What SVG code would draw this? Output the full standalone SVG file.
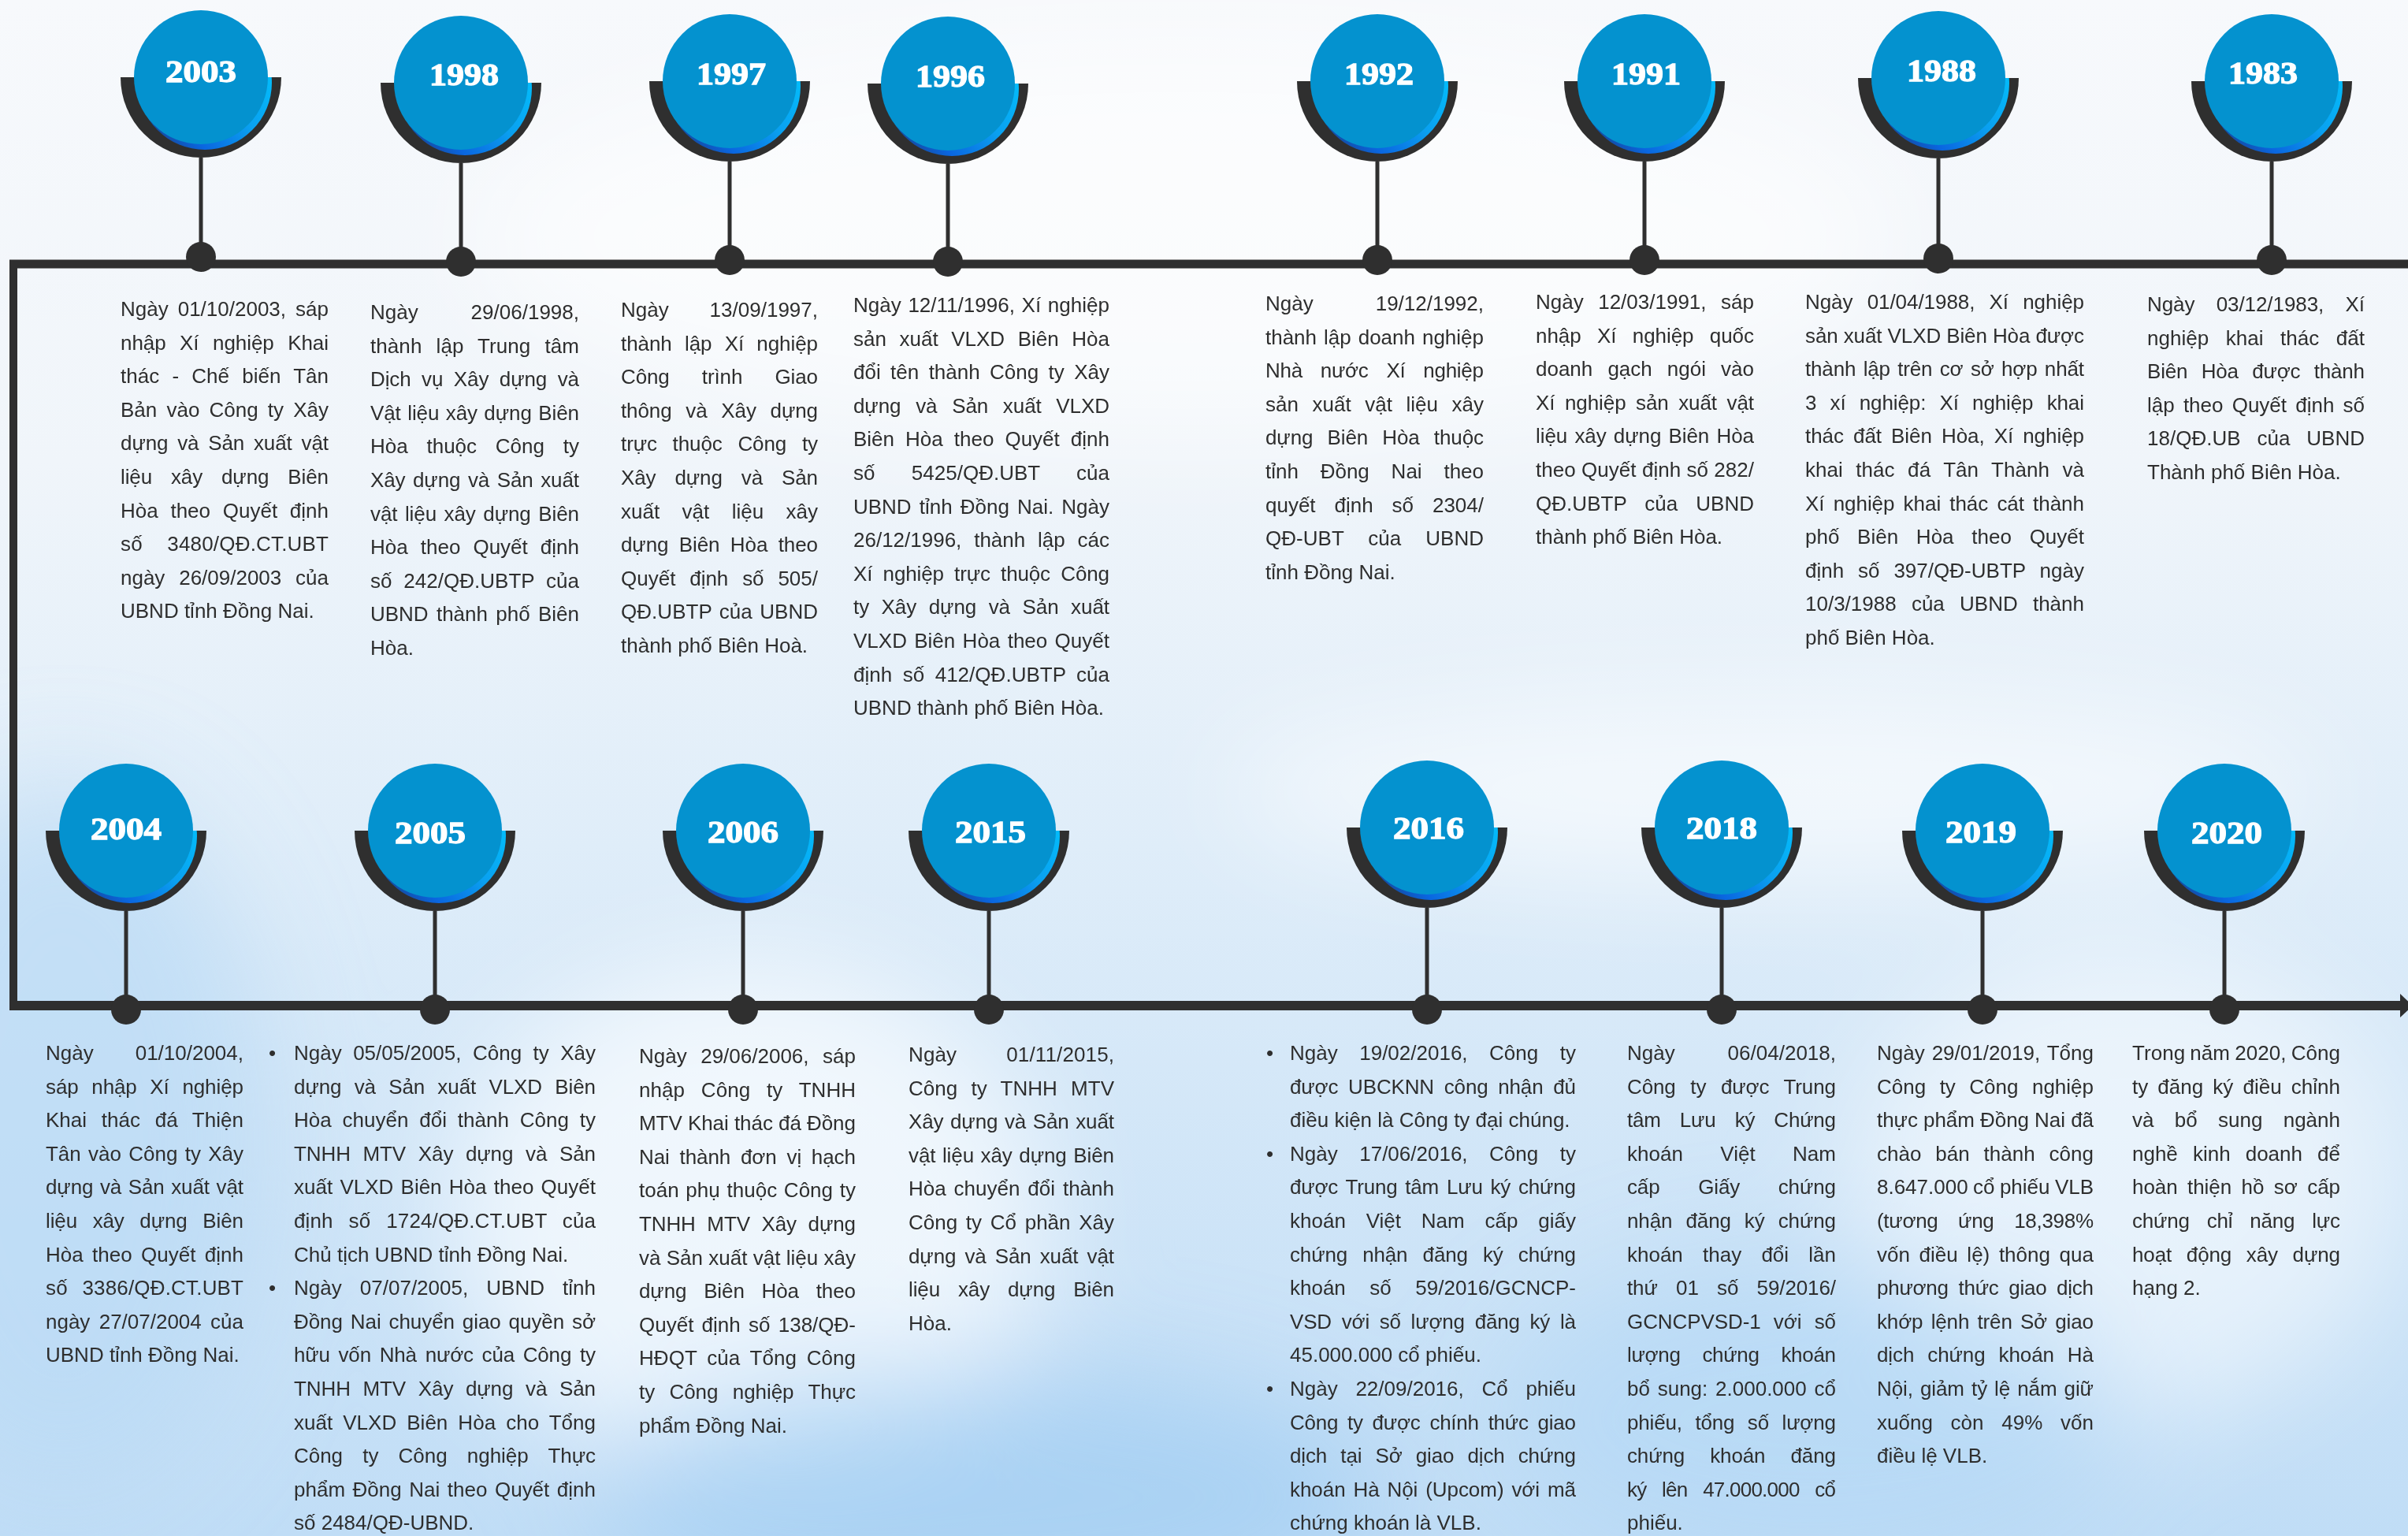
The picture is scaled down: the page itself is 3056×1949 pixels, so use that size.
<svg xmlns="http://www.w3.org/2000/svg" xmlns:xlink="http://www.w3.org/1999/xlink" width="3056" height="1949" viewBox="0 0 3056 1949">
<style>
.t{font-family:"Liberation Sans",Arial,sans-serif;font-size:26px;fill:#2e2e2e}
.yr{font-family:"Liberation Serif","Times New Roman",serif;font-weight:bold;font-size:41px;fill:#ffffff;stroke:#ffffff;stroke-width:1.3px;text-anchor:middle}
.ln{stroke:#2f2f2f;fill:none}
.stem{stroke:#2f2f2f;stroke-width:5}
.dot{fill:#2f2f2f}
.cup{fill:#2f2f2f}
.disc{fill:#0492cf}
</style>
<defs>
<linearGradient id="bg" x1="0" y1="0" x2="0" y2="1">
<stop offset="0" stop-color="#f7f9fc"/>
<stop offset="0.3" stop-color="#f0f5fa"/>
<stop offset="0.55" stop-color="#dfedf9"/>
<stop offset="1" stop-color="#c0ddf6"/>
</linearGradient>
<linearGradient id="cres" x1="1" y1="0.2" x2="0.1" y2="1">
<stop offset="0" stop-color="#00c8ff"/>
<stop offset="0.45" stop-color="#0aa0f0"/>
<stop offset="0.75" stop-color="#0a66e0"/>
<stop offset="1" stop-color="#1a3d80"/>
</linearGradient>
<filter id="blur" x="-50%" y="-50%" width="200%" height="200%"><feGaussianBlur stdDeviation="70"/></filter>
<clipPath id="lower"><rect x="-120" y="0" width="240" height="130"/></clipPath>
<g id="badge">
<path class="cup" d="M-102,0 A102,102 0 0 0 102,0 Z"/>
<g clip-path="url(#lower)"><circle cx="5" cy="7" r="85" fill="url(#cres)"/></g>
<circle class="disc" r="85"/>
</g>
</defs>
<g id="background">
<rect width="3056" height="1949" fill="url(#bg)"/>
<g filter="url(#blur)">
<ellipse cx="80" cy="1450" rx="260" ry="450" fill="#b9daf5" opacity="0.7"/>
<ellipse cx="950" cy="1550" rx="380" ry="330" fill="#ffffff" opacity="0.65"/>
<ellipse cx="1250" cy="1900" rx="500" ry="160" fill="#9fcdf2" opacity="0.7"/>
<ellipse cx="2250" cy="1000" rx="700" ry="110" fill="#ffffff" opacity="0.6"/>
<ellipse cx="2700" cy="1500" rx="350" ry="300" fill="#ffffff" opacity="0.5"/>
<ellipse cx="2300" cy="1800" rx="400" ry="200" fill="#b2d7f5" opacity="0.6"/>
<ellipse cx="1500" cy="300" rx="900" ry="250" fill="#ffffff" opacity="0.6"/>
</g>
</g>
<g id="connectors">
<line class="ln" x1="12" y1="335" x2="3056" y2="335" stroke-width="11"/>
<line class="ln" x1="17" y1="330" x2="17" y2="1282" stroke-width="10"/>
<line class="ln" x1="12" y1="1276" x2="3050" y2="1276" stroke-width="12"/>
<polygon points="3046,1261 3062,1276 3046,1291" fill="#2f2f2f"/>
</g>

<g id="n2003">
<line class="stem" x1="255" y1="200" x2="255" y2="326"/>
<circle class="dot" cx="255" cy="326" r="19"/>
<use xlink:href="#badge" href="#badge" transform="translate(255,98)"/>
<text class="yr" x="255" y="104" textLength="90" lengthAdjust="spacingAndGlyphs">2003</text>
<text class="t" x="153" y="401" textLength="264" lengthAdjust="spacing" style="word-spacing:4.8px">Ngày 01/10/2003, sáp</text>
<text class="t" x="153" y="443.6" textLength="264" lengthAdjust="spacing" style="word-spacing:10.4px">nhập Xí nghiệp Khai</text>
<text class="t" x="153" y="486.2" textLength="264" lengthAdjust="spacing" style="word-spacing:8.9px">thác - Chế biến Tân</text>
<text class="t" x="153" y="528.8" textLength="264" lengthAdjust="spacing" style="word-spacing:4.9px">Bản vào Công ty Xây</text>
<text class="t" x="153" y="571.4" textLength="264" lengthAdjust="spacing" style="word-spacing:4.6px">dựng và Sản xuất vật</text>
<text class="t" x="153" y="614" textLength="264" lengthAdjust="spacing" style="word-spacing:16.8px">liệu xây dựng Biên</text>
<text class="t" x="153" y="656.6" textLength="264" lengthAdjust="spacing" style="word-spacing:8.5px">Hòa theo Quyết định</text>
<text class="t" x="153" y="699.2" textLength="264" lengthAdjust="spacing" style="word-spacing:24px">số 3480/QĐ.CT.UBT</text>
<text class="t" x="153" y="741.8" textLength="264" lengthAdjust="spacing" style="word-spacing:10.6px">ngày 26/09/2003 của</text>
<text class="t" x="153" y="784.4">UBND tỉnh Đồng Nai.</text>
</g>

<g id="n1998">
<line class="stem" x1="585" y1="207" x2="585" y2="332"/>
<circle class="dot" cx="585" cy="332" r="19"/>
<use xlink:href="#badge" href="#badge" transform="translate(585,105)"/>
<text class="yr" x="589" y="108" textLength="88" lengthAdjust="spacingAndGlyphs">1998</text>
<text class="t" x="470" y="405" textLength="265" lengthAdjust="spacing" style="word-spacing:59.7px">Ngày 29/06/1998,</text>
<text class="t" x="470" y="447.6" textLength="265" lengthAdjust="spacing" style="word-spacing:10.8px">thành lập Trung tâm</text>
<text class="t" x="470" y="490.2" textLength="265" lengthAdjust="spacing" style="word-spacing:6.4px">Dịch vụ Xây dựng và</text>
<text class="t" x="470" y="532.8" textLength="265" lengthAdjust="spacing" style="word-spacing:1.3px">Vật liệu xây dựng Biên</text>
<text class="t" x="470" y="575.4" textLength="265" lengthAdjust="spacing" style="word-spacing:16.6px">Hòa thuộc Công ty</text>
<text class="t" x="470" y="618" textLength="265" lengthAdjust="spacing" style="word-spacing:2.4px">Xây dựng và Sản xuất</text>
<text class="t" x="470" y="660.6" textLength="265" lengthAdjust="spacing" style="word-spacing:2.4px">vật liệu xây dựng Biên</text>
<text class="t" x="470" y="703.2" textLength="265" lengthAdjust="spacing" style="word-spacing:8.8px">Hòa theo Quyết định</text>
<text class="t" x="470" y="745.8" textLength="265" lengthAdjust="spacing" style="word-spacing:7.5px">số 242/QĐ.UBTP của</text>
<text class="t" x="470" y="788.4" textLength="265" lengthAdjust="spacing" style="word-spacing:3.1px">UBND thành phố Biên</text>
<text class="t" x="470" y="831">Hòa.</text>
</g>

<g id="n1997">
<line class="stem" x1="926" y1="205" x2="926" y2="330"/>
<circle class="dot" cx="926" cy="330" r="19"/>
<use xlink:href="#badge" href="#badge" transform="translate(926,103)"/>
<text class="yr" x="928" y="107" textLength="88" lengthAdjust="spacingAndGlyphs">1997</text>
<text class="t" x="788" y="402" textLength="250" lengthAdjust="spacing" style="word-spacing:44.7px">Ngày 13/09/1997,</text>
<text class="t" x="788" y="444.6" textLength="250" lengthAdjust="spacing" style="word-spacing:9.1px">thành lập Xí nghiệp</text>
<text class="t" x="788" y="487.2" textLength="250" lengthAdjust="spacing" style="word-spacing:34px">Công trình Giao</text>
<text class="t" x="788" y="529.8" textLength="250" lengthAdjust="spacing" style="word-spacing:10.7px">thông và Xây dựng</text>
<text class="t" x="788" y="572.4" textLength="250" lengthAdjust="spacing" style="word-spacing:12.6px">trực thuộc Công ty</text>
<text class="t" x="788" y="615" textLength="250" lengthAdjust="spacing" style="word-spacing:16.9px">Xây dựng và Sản</text>
<text class="t" x="788" y="657.6" textLength="250" lengthAdjust="spacing" style="word-spacing:21.2px">xuất vật liệu xây</text>
<text class="t" x="788" y="700.2" textLength="250" lengthAdjust="spacing" style="word-spacing:6.3px">dựng Biên Hòa theo</text>
<text class="t" x="788" y="742.8" textLength="250" lengthAdjust="spacing" style="word-spacing:10.6px">Quyết định số 505/</text>
<text class="t" x="788" y="785.4" textLength="250" lengthAdjust="spacing" style="word-spacing:2.2px">QĐ.UBTP của UBND</text>
<text class="t" x="788" y="828">thành phố Biên Hoà.</text>
</g>

<g id="n1996">
<line class="stem" x1="1203" y1="208" x2="1203" y2="332"/>
<circle class="dot" cx="1203" cy="332" r="19"/>
<use xlink:href="#badge" href="#badge" transform="translate(1203,106)"/>
<text class="yr" x="1206" y="110" textLength="88" lengthAdjust="spacingAndGlyphs">1996</text>
<text class="t" x="1083" y="396" textLength="325" lengthAdjust="spacing" style="word-spacing:1.4px">Ngày 12/11/1996, Xí nghiệp</text>
<text class="t" x="1083" y="438.6" textLength="325" lengthAdjust="spacing" style="word-spacing:9.4px">sản xuất VLXD Biên Hòa</text>
<text class="t" x="1083" y="481.2" textLength="325" lengthAdjust="spacing" style="word-spacing:5.2px">đổi tên thành Công ty Xây</text>
<text class="t" x="1083" y="523.8" textLength="325" lengthAdjust="spacing" style="word-spacing:11.6px">dựng và Sản xuất VLXD</text>
<text class="t" x="1083" y="566.4" textLength="325" lengthAdjust="spacing" style="word-spacing:6.8px">Biên Hòa theo Quyết định</text>
<text class="t" x="1083" y="609" textLength="325" lengthAdjust="spacing" style="word-spacing:39px">số 5425/QĐ.UBT của</text>
<text class="t" x="1083" y="651.6" textLength="325" lengthAdjust="spacing" style="word-spacing:2.9px">UBND tỉnh Đồng Nai. Ngày</text>
<text class="t" x="1083" y="694.2" textLength="325" lengthAdjust="spacing" style="word-spacing:8.6px">26/12/1996, thành lập các</text>
<text class="t" x="1083" y="736.8" textLength="325" lengthAdjust="spacing" style="word-spacing:6.2px">Xí nghiệp trực thuộc Công</text>
<text class="t" x="1083" y="779.4" textLength="325" lengthAdjust="spacing" style="word-spacing:8.4px">ty Xây dựng và Sản xuất</text>
<text class="t" x="1083" y="822" textLength="325" lengthAdjust="spacing" style="word-spacing:2.1px">VLXD Biên Hòa theo Quyết</text>
<text class="t" x="1083" y="864.6" textLength="325" lengthAdjust="spacing" style="word-spacing:6.2px">định số 412/QĐ.UBTP của</text>
<text class="t" x="1083" y="907.2">UBND thành phố Biên Hòa.</text>
</g>

<g id="n1992">
<line class="stem" x1="1748" y1="205" x2="1748" y2="330"/>
<circle class="dot" cx="1748" cy="330" r="19"/>
<use xlink:href="#badge" href="#badge" transform="translate(1748,103)"/>
<text class="yr" x="1750" y="107" textLength="88" lengthAdjust="spacingAndGlyphs">1992</text>
<text class="t" x="1606" y="394" textLength="277" lengthAdjust="spacing" style="word-spacing:71.8px">Ngày 19/12/1992,</text>
<text class="t" x="1606" y="436.6" textLength="277" lengthAdjust="spacing" style="word-spacing:1.8px">thành lập doanh nghiệp</text>
<text class="t" x="1606" y="479.2" textLength="277" lengthAdjust="spacing" style="word-spacing:15.9px">Nhà nước Xí nghiệp</text>
<text class="t" x="1606" y="521.8" textLength="277" lengthAdjust="spacing" style="word-spacing:10.4px">sản xuất vật liệu xây</text>
<text class="t" x="1606" y="564.4" textLength="277" lengthAdjust="spacing" style="word-spacing:11px">dựng Biên Hòa thuộc</text>
<text class="t" x="1606" y="607" textLength="277" lengthAdjust="spacing" style="word-spacing:20.6px">tỉnh Đồng Nai theo</text>
<text class="t" x="1606" y="649.6" textLength="277" lengthAdjust="spacing" style="word-spacing:16.7px">quyết định số 2304/</text>
<text class="t" x="1606" y="692.2" textLength="277" lengthAdjust="spacing" style="word-spacing:23.7px">QĐ-UBT của UBND</text>
<text class="t" x="1606" y="734.8">tỉnh Đồng Nai.</text>
</g>

<g id="n1991">
<line class="stem" x1="2087" y1="205" x2="2087" y2="330"/>
<circle class="dot" cx="2087" cy="330" r="19"/>
<use xlink:href="#badge" href="#badge" transform="translate(2087,103)"/>
<text class="yr" x="2089" y="107" textLength="88" lengthAdjust="spacingAndGlyphs">1991</text>
<text class="t" x="1949" y="392" textLength="277" lengthAdjust="spacing" style="word-spacing:11.3px">Ngày 12/03/1991, sáp</text>
<text class="t" x="1949" y="434.6" textLength="277" lengthAdjust="spacing" style="word-spacing:13.3px">nhập Xí nghiệp quốc</text>
<text class="t" x="1949" y="477.2" textLength="277" lengthAdjust="spacing" style="word-spacing:11.9px">doanh gạch ngói vào</text>
<text class="t" x="1949" y="519.8" textLength="277" lengthAdjust="spacing" style="word-spacing:5.3px">Xí nghiệp sản xuất vật</text>
<text class="t" x="1949" y="562.4" textLength="277" lengthAdjust="spacing" style="word-spacing:2.1px">liệu xây dựng Biên Hòa</text>
<text class="t" x="1949" y="605" textLength="277" lengthAdjust="spacing">theo Quyết định số 282/</text>
<text class="t" x="1949" y="647.6" textLength="277" lengthAdjust="spacing" style="word-spacing:15.7px">QĐ.UBTP của UBND</text>
<text class="t" x="1949" y="690.2">thành phố Biên Hòa.</text>
</g>

<g id="n1988">
<line class="stem" x1="2460" y1="201" x2="2460" y2="328"/>
<circle class="dot" cx="2460" cy="328" r="19"/>
<use xlink:href="#badge" href="#badge" transform="translate(2460,99)"/>
<text class="yr" x="2464" y="103" textLength="88" lengthAdjust="spacingAndGlyphs">1988</text>
<text class="t" x="2291" y="392" textLength="354" lengthAdjust="spacing" style="word-spacing:11px">Ngày 01/04/1988, Xí nghiệp</text>
<text class="t" x="2291" y="434.6" textLength="354" lengthAdjust="spacing">sản xuất VLXD Biên Hòa được</text>
<text class="t" x="2291" y="477.2" textLength="354" lengthAdjust="spacing" style="word-spacing:2.3px">thành lập trên cơ sở hợp nhất</text>
<text class="t" x="2291" y="519.8" textLength="354" lengthAdjust="spacing" style="word-spacing:10.1px">3 xí nghiệp: Xí nghiệp khai</text>
<text class="t" x="2291" y="562.4" textLength="354" lengthAdjust="spacing" style="word-spacing:4.9px">thác đất Biên Hòa, Xí nghiệp</text>
<text class="t" x="2291" y="605" textLength="354" lengthAdjust="spacing" style="word-spacing:9.2px">khai thác đá Tân Thành và</text>
<text class="t" x="2291" y="647.6" textLength="354" lengthAdjust="spacing" style="word-spacing:4px">Xí nghiệp khai thác cát thành</text>
<text class="t" x="2291" y="690.2" textLength="354" lengthAdjust="spacing" style="word-spacing:15.5px">phố Biên Hòa theo Quyết</text>
<text class="t" x="2291" y="732.8" textLength="354" lengthAdjust="spacing" style="word-spacing:10.6px">định số 397/QĐ-UBTP ngày</text>
<text class="t" x="2291" y="775.4" textLength="354" lengthAdjust="spacing" style="word-spacing:12px">10/3/1988 của UBND thành</text>
<text class="t" x="2291" y="818">phố Biên Hòa.</text>
</g>

<g id="n1983">
<line class="stem" x1="2883" y1="205" x2="2883" y2="330"/>
<circle class="dot" cx="2883" cy="330" r="19"/>
<use xlink:href="#badge" href="#badge" transform="translate(2883,103)"/>
<text class="yr" x="2872" y="106" textLength="88" lengthAdjust="spacingAndGlyphs">1983</text>
<text class="t" x="2725" y="395" textLength="276" lengthAdjust="spacing" style="word-spacing:20.2px">Ngày 03/12/1983, Xí</text>
<text class="t" x="2725" y="437.6" textLength="276" lengthAdjust="spacing" style="word-spacing:14.4px">nghiệp khai thác đất</text>
<text class="t" x="2725" y="480.2" textLength="276" lengthAdjust="spacing" style="word-spacing:10.3px">Biên Hòa được thành</text>
<text class="t" x="2725" y="522.8" textLength="276" lengthAdjust="spacing" style="word-spacing:4px">lập theo Quyết định số</text>
<text class="t" x="2725" y="565.4" textLength="276" lengthAdjust="spacing" style="word-spacing:13.7px">18/QĐ.UB của UBND</text>
<text class="t" x="2725" y="608">Thành phố Biên Hòa.</text>
</g>

<g id="n2004">
<line class="stem" x1="160" y1="1156" x2="160" y2="1281"/>
<circle class="dot" cx="160" cy="1281" r="19"/>
<use xlink:href="#badge" href="#badge" transform="translate(160,1054)"/>
<text class="yr" x="160" y="1065" textLength="90" lengthAdjust="spacingAndGlyphs">2004</text>
<text class="t" x="58" y="1345" textLength="251" lengthAdjust="spacing" style="word-spacing:45.8px">Ngày 01/10/2004,</text>
<text class="t" x="58" y="1387.6" textLength="251" lengthAdjust="spacing" style="word-spacing:9.5px">sáp nhập Xí nghiệp</text>
<text class="t" x="58" y="1430.2" textLength="251" lengthAdjust="spacing" style="word-spacing:11.4px">Khai thác đá Thiện</text>
<text class="t" x="58" y="1472.8" textLength="251" lengthAdjust="spacing" style="word-spacing:2.1px">Tân vào Công ty Xây</text>
<text class="t" x="58" y="1515.4" textLength="251" lengthAdjust="spacing" style="word-spacing:1.4px">dựng và Sản xuất vật</text>
<text class="t" x="58" y="1558" textLength="251" lengthAdjust="spacing" style="word-spacing:12.5px">liệu xây dựng Biên</text>
<text class="t" x="58" y="1600.6" textLength="251" lengthAdjust="spacing" style="word-spacing:4.2px">Hòa theo Quyết định</text>
<text class="t" x="58" y="1643.2" textLength="251" lengthAdjust="spacing" style="word-spacing:11.2px">số 3386/QĐ.CT.UBT</text>
<text class="t" x="58" y="1685.8" textLength="251" lengthAdjust="spacing" style="word-spacing:4.1px">ngày 27/07/2004 của</text>
<text class="t" x="58" y="1728.4">UBND tỉnh Đồng Nai.</text>
</g>

<g id="n2005">
<line class="stem" x1="552" y1="1156" x2="552" y2="1281"/>
<circle class="dot" cx="552" cy="1281" r="19"/>
<use xlink:href="#badge" href="#badge" transform="translate(552,1054)"/>
<text class="yr" x="546" y="1070" textLength="90" lengthAdjust="spacingAndGlyphs">2005</text>
<text class="t" x="341" y="1345">•</text>
<text class="t" x="341" y="1643.2">•</text>
<text class="t" x="373" y="1345" textLength="383" lengthAdjust="spacing" style="word-spacing:7.2px">Ngày 05/05/2005, Công ty Xây</text>
<text class="t" x="373" y="1387.6" textLength="383" lengthAdjust="spacing" style="word-spacing:9px">dựng và Sản xuất VLXD Biên</text>
<text class="t" x="373" y="1430.2" textLength="383" lengthAdjust="spacing" style="word-spacing:6.7px">Hòa chuyển đổi thành Công ty</text>
<text class="t" x="373" y="1472.8" textLength="383" lengthAdjust="spacing" style="word-spacing:8.5px">TNHH MTV Xây dựng và Sản</text>
<text class="t" x="373" y="1515.4" textLength="383" lengthAdjust="spacing" style="word-spacing:2px">xuất VLXD Biên Hòa theo Quyết</text>
<text class="t" x="373" y="1558" textLength="383" lengthAdjust="spacing" style="word-spacing:12.5px">định số 1724/QĐ.CT.UBT của</text>
<text class="t" x="373" y="1600.6">Chủ tịch UBND tỉnh Đồng Nai.</text>
<text class="t" x="373" y="1643.2" textLength="383" lengthAdjust="spacing" style="word-spacing:15.9px">Ngày 07/07/2005, UBND tỉnh</text>
<text class="t" x="373" y="1685.8" textLength="383" lengthAdjust="spacing" style="word-spacing:2.7px">Đồng Nai chuyển giao quyền sở</text>
<text class="t" x="373" y="1728.4" textLength="383" lengthAdjust="spacing" style="word-spacing:3.8px">hữu vốn Nhà nước của Công ty</text>
<text class="t" x="373" y="1771" textLength="383" lengthAdjust="spacing" style="word-spacing:8.5px">TNHH MTV Xây dựng và Sản</text>
<text class="t" x="373" y="1813.6" textLength="383" lengthAdjust="spacing" style="word-spacing:5.8px">xuất VLXD Biên Hòa cho Tổng</text>
<text class="t" x="373" y="1856.2" textLength="383" lengthAdjust="spacing" style="word-spacing:18.1px">Công ty Công nghiệp Thực</text>
<text class="t" x="373" y="1898.8" textLength="383" lengthAdjust="spacing" style="word-spacing:2.3px">phẩm Đồng Nai theo Quyết định</text>
<text class="t" x="373" y="1941.4">số 2484/QĐ-UBND.</text>
</g>

<g id="n2006">
<line class="stem" x1="943" y1="1156" x2="943" y2="1281"/>
<circle class="dot" cx="943" cy="1281" r="19"/>
<use xlink:href="#badge" href="#badge" transform="translate(943,1054)"/>
<text class="yr" x="943" y="1069" textLength="90" lengthAdjust="spacingAndGlyphs">2006</text>
<text class="t" x="811" y="1349" textLength="275" lengthAdjust="spacing" style="word-spacing:10.3px">Ngày 29/06/2006, sáp</text>
<text class="t" x="811" y="1391.6" textLength="275" lengthAdjust="spacing" style="word-spacing:13.6px">nhập Công ty TNHH</text>
<text class="t" x="811" y="1434.2" textLength="275" lengthAdjust="spacing">MTV Khai thác đá Đồng</text>
<text class="t" x="811" y="1476.8" textLength="275" lengthAdjust="spacing" style="word-spacing:5.6px">Nai thành đơn vị hạch</text>
<text class="t" x="811" y="1519.4" textLength="275" lengthAdjust="spacing" style="word-spacing:1.5px">toán phụ thuộc Công ty</text>
<text class="t" x="811" y="1562" textLength="275" lengthAdjust="spacing" style="word-spacing:7.5px">TNHH MTV Xây dựng</text>
<text class="t" x="811" y="1604.6" textLength="275" lengthAdjust="spacing">và Sản xuất vật liệu xây</text>
<text class="t" x="811" y="1647.2" textLength="275" lengthAdjust="spacing" style="word-spacing:14.7px">dựng Biên Hòa theo</text>
<text class="t" x="811" y="1689.8" textLength="275" lengthAdjust="spacing" style="word-spacing:3px">Quyết định số 138/QĐ-</text>
<text class="t" x="811" y="1732.4" textLength="275" lengthAdjust="spacing" style="word-spacing:5.5px">HĐQT của Tổng Công</text>
<text class="t" x="811" y="1775" textLength="275" lengthAdjust="spacing" style="word-spacing:11.3px">ty Công nghiệp Thực</text>
<text class="t" x="811" y="1817.6">phẩm Đồng Nai.</text>
</g>

<g id="n2015">
<line class="stem" x1="1255" y1="1156" x2="1255" y2="1281"/>
<circle class="dot" cx="1255" cy="1281" r="19"/>
<use xlink:href="#badge" href="#badge" transform="translate(1255,1054)"/>
<text class="yr" x="1257" y="1069" textLength="90" lengthAdjust="spacingAndGlyphs">2015</text>
<text class="t" x="1153" y="1347" textLength="261" lengthAdjust="spacing" style="word-spacing:55.7px">Ngày 01/11/2015,</text>
<text class="t" x="1153" y="1389.6" textLength="261" lengthAdjust="spacing" style="word-spacing:9.9px">Công ty TNHH MTV</text>
<text class="t" x="1153" y="1432.2" textLength="261" lengthAdjust="spacing" style="word-spacing:1.4px">Xây dựng và Sản xuất</text>
<text class="t" x="1153" y="1474.8" textLength="261" lengthAdjust="spacing" style="word-spacing:1.4px">vật liệu xây dựng Biên</text>
<text class="t" x="1153" y="1517.4" textLength="261" lengthAdjust="spacing" style="word-spacing:2.7px">Hòa chuyển đổi thành</text>
<text class="t" x="1153" y="1560" textLength="261" lengthAdjust="spacing" style="word-spacing:3.5px">Công ty Cổ phần Xây</text>
<text class="t" x="1153" y="1602.6" textLength="261" lengthAdjust="spacing" style="word-spacing:3.9px">dựng và Sản xuất vật</text>
<text class="t" x="1153" y="1645.2" textLength="261" lengthAdjust="spacing" style="word-spacing:15.8px">liệu xây dựng Biên</text>
<text class="t" x="1153" y="1687.8">Hòa.</text>
</g>

<g id="n2016">
<line class="stem" x1="1811" y1="1152" x2="1811" y2="1281"/>
<circle class="dot" cx="1811" cy="1281" r="19"/>
<use xlink:href="#badge" href="#badge" transform="translate(1811,1050)"/>
<text class="yr" x="1813" y="1064" textLength="90" lengthAdjust="spacingAndGlyphs">2016</text>
<text class="t" x="1607" y="1345">•</text>
<text class="t" x="1607" y="1472.8">•</text>
<text class="t" x="1607" y="1771">•</text>
<text class="t" x="1637" y="1345" textLength="363" lengthAdjust="spacing" style="word-spacing:20.3px">Ngày 19/02/2016, Công ty</text>
<text class="t" x="1637" y="1387.6" textLength="363" lengthAdjust="spacing" style="word-spacing:5.6px">được UBCKNN công nhận đủ</text>
<text class="t" x="1637" y="1430.2">điều kiện là Công ty đại chúng.</text>
<text class="t" x="1637" y="1472.8" textLength="363" lengthAdjust="spacing" style="word-spacing:20.3px">Ngày 17/06/2016, Công ty</text>
<text class="t" x="1637" y="1515.4" textLength="363" lengthAdjust="spacing" style="word-spacing:2.9px">được Trung tâm Lưu ký chứng</text>
<text class="t" x="1637" y="1558" textLength="363" lengthAdjust="spacing" style="word-spacing:18.5px">khoán Việt Nam cấp giấy</text>
<text class="t" x="1637" y="1600.6" textLength="363" lengthAdjust="spacing" style="word-spacing:12.1px">chứng nhận đăng ký chứng</text>
<text class="t" x="1637" y="1643.2" textLength="363" lengthAdjust="spacing" style="word-spacing:23.3px">khoán số 59/2016/GCNCP-</text>
<text class="t" x="1637" y="1685.8" textLength="363" lengthAdjust="spacing" style="word-spacing:5.7px">VSD với số lượng đăng ký là</text>
<text class="t" x="1637" y="1728.4">45.000.000 cổ phiếu.</text>
<text class="t" x="1637" y="1771" textLength="363" lengthAdjust="spacing" style="word-spacing:15.5px">Ngày 22/09/2016, Cổ phiếu</text>
<text class="t" x="1637" y="1813.6" textLength="363" lengthAdjust="spacing" style="word-spacing:4.9px">Công ty được chính thức giao</text>
<text class="t" x="1637" y="1856.2" textLength="363" lengthAdjust="spacing" style="word-spacing:10px">dịch tại Sở giao dịch chứng</text>
<text class="t" x="1637" y="1898.8" textLength="363" lengthAdjust="spacing" style="word-spacing:2.7px">khoán Hà Nội (Upcom) với mã</text>
<text class="t" x="1637" y="1941.4">chứng khoán là VLB.</text>
</g>

<g id="n2018">
<line class="stem" x1="2185" y1="1152" x2="2185" y2="1281"/>
<circle class="dot" cx="2185" cy="1281" r="19"/>
<use xlink:href="#badge" href="#badge" transform="translate(2185,1050)"/>
<text class="yr" x="2185" y="1064" textLength="90" lengthAdjust="spacingAndGlyphs">2018</text>
<text class="t" x="2065" y="1345" textLength="265" lengthAdjust="spacing" style="word-spacing:59.7px">Ngày 06/04/2018,</text>
<text class="t" x="2065" y="1387.6" textLength="265" lengthAdjust="spacing" style="word-spacing:11.5px">Công ty được Trung</text>
<text class="t" x="2065" y="1430.2" textLength="265" lengthAdjust="spacing" style="word-spacing:17.2px">tâm Lưu ký Chứng</text>
<text class="t" x="2065" y="1472.8" textLength="265" lengthAdjust="spacing" style="word-spacing:40px">khoán Việt Nam</text>
<text class="t" x="2065" y="1515.4" textLength="265" lengthAdjust="spacing" style="word-spacing:41.6px">cấp Giấy chứng</text>
<text class="t" x="2065" y="1558" textLength="265" lengthAdjust="spacing" style="word-spacing:9.9px">nhận đăng ký chứng</text>
<text class="t" x="2065" y="1600.6" textLength="265" lengthAdjust="spacing" style="word-spacing:18px">khoán thay đổi lần</text>
<text class="t" x="2065" y="1643.2" textLength="265" lengthAdjust="spacing" style="word-spacing:16.2px">thứ 01 số 59/2016/</text>
<text class="t" x="2065" y="1685.8" textLength="265" lengthAdjust="spacing" style="word-spacing:9.1px">GCNCPVSD-1 với số</text>
<text class="t" x="2065" y="1728.4" textLength="265" lengthAdjust="spacing" style="word-spacing:20.9px">lượng chứng khoán</text>
<text class="t" x="2065" y="1771" textLength="265" lengthAdjust="spacing" style="word-spacing:2.6px">bổ sung: 2.000.000 cổ</text>
<text class="t" x="2065" y="1813.6" textLength="265" lengthAdjust="spacing" style="word-spacing:9.5px">phiếu, tổng số lượng</text>
<text class="t" x="2065" y="1856.2" textLength="265" lengthAdjust="spacing" style="word-spacing:25px">chứng khoán đăng</text>
<text class="t" x="2065" y="1898.8" textLength="265" lengthAdjust="spacing" style="word-spacing:13.2px">ký lên 47.000.000 cổ</text>
<text class="t" x="2065" y="1941.4">phiếu.</text>
</g>

<g id="n2019">
<line class="stem" x1="2516" y1="1156" x2="2516" y2="1281"/>
<circle class="dot" cx="2516" cy="1281" r="19"/>
<use xlink:href="#badge" href="#badge" transform="translate(2516,1054)"/>
<text class="yr" x="2514" y="1069" textLength="90" lengthAdjust="spacingAndGlyphs">2019</text>
<text class="t" x="2382" y="1345" textLength="275" lengthAdjust="spacing" style="word-spacing:1.6px">Ngày 29/01/2019, Tổng</text>
<text class="t" x="2382" y="1387.6" textLength="275" lengthAdjust="spacing" style="word-spacing:10.3px">Công ty Công nghiệp</text>
<text class="t" x="2382" y="1430.2" textLength="275" lengthAdjust="spacing">thực phẩm Đồng Nai đã</text>
<text class="t" x="2382" y="1472.8" textLength="275" lengthAdjust="spacing" style="word-spacing:10.7px">chào bán thành công</text>
<text class="t" x="2382" y="1515.4" textLength="275" lengthAdjust="spacing" style="word-spacing:-0.8px">8.647.000 cổ phiếu VLB</text>
<text class="t" x="2382" y="1558" textLength="275" lengthAdjust="spacing" style="word-spacing:18.7px">(tương ứng 18,398%</text>
<text class="t" x="2382" y="1600.6" textLength="275" lengthAdjust="spacing" style="word-spacing:4.4px">vốn điều lệ) thông qua</text>
<text class="t" x="2382" y="1643.2" textLength="275" lengthAdjust="spacing" style="word-spacing:5.7px">phương thức giao dịch</text>
<text class="t" x="2382" y="1685.8" textLength="275" lengthAdjust="spacing" style="word-spacing:3.1px">khớp lệnh trên Sở giao</text>
<text class="t" x="2382" y="1728.4" textLength="275" lengthAdjust="spacing" style="word-spacing:9.9px">dịch chứng khoán Hà</text>
<text class="t" x="2382" y="1771" textLength="275" lengthAdjust="spacing" style="word-spacing:1.9px">Nội, giảm tỷ lệ nắm giữ</text>
<text class="t" x="2382" y="1813.6" textLength="275" lengthAdjust="spacing" style="word-spacing:15.5px">xuống còn 49% vốn</text>
<text class="t" x="2382" y="1856.2">điều lệ VLB.</text>
</g>

<g id="n2020">
<line class="stem" x1="2823" y1="1156" x2="2823" y2="1281"/>
<circle class="dot" cx="2823" cy="1281" r="19"/>
<use xlink:href="#badge" href="#badge" transform="translate(2823,1054)"/>
<text class="yr" x="2826" y="1070" textLength="90" lengthAdjust="spacingAndGlyphs">2020</text>
<text class="t" x="2706" y="1345" textLength="264" lengthAdjust="spacing" style="word-spacing:-1.1px">Trong năm 2020, Công</text>
<text class="t" x="2706" y="1387.6" textLength="264" lengthAdjust="spacing" style="word-spacing:4.9px">ty đăng ký điều chỉnh</text>
<text class="t" x="2706" y="1430.2" textLength="264" lengthAdjust="spacing" style="word-spacing:19.1px">và bổ sung ngành</text>
<text class="t" x="2706" y="1472.8" textLength="264" lengthAdjust="spacing" style="word-spacing:11.9px">nghề kinh doanh để</text>
<text class="t" x="2706" y="1515.4" textLength="264" lengthAdjust="spacing" style="word-spacing:5.4px">hoàn thiện hồ sơ cấp</text>
<text class="t" x="2706" y="1558" textLength="264" lengthAdjust="spacing" style="word-spacing:15px">chứng chỉ năng lực</text>
<text class="t" x="2706" y="1600.6" textLength="264" lengthAdjust="spacing" style="word-spacing:11.5px">hoạt động xây dựng</text>
<text class="t" x="2706" y="1643.2">hạng 2.</text>
</g>
</svg>
